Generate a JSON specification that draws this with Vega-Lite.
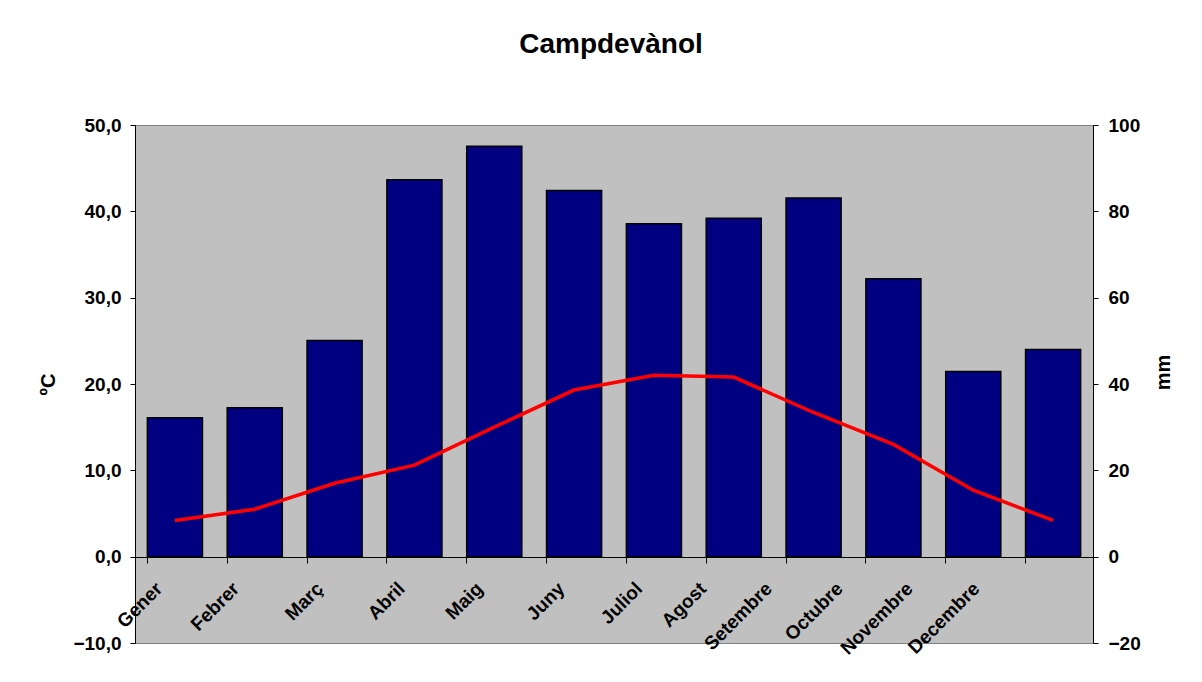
{
  "$schema": "https://vega.github.io/schema/vega-lite/v6.json",
  "width": 958,
  "height": 518,
  "autosize": {"type": "none"},
  "padding": {"left": 135, "top": 125, "right": 109, "bottom": 39},
  "background": "white",
  "title": {
    "text": "Campdevànol",
    "font": "Liberation Sans",
    "fontSize": 28,
    "fontWeight": "bold",
    "color": "black",
    "anchor": "middle",
    "frame": "group",
    "baseline": "alphabetic",
    "offset": 35,
    "dx": -3
  },
  "data": {
    "values": [
      {"mes": "Gener", "pluja": 32.2, "temp": 4.2},
      {"mes": "Febrer", "pluja": 34.5, "temp": 5.5},
      {"mes": "Març", "pluja": 50.1, "temp": 8.5},
      {"mes": "Abril", "pluja": 87.3, "temp": 10.6},
      {"mes": "Maig", "pluja": 95.1, "temp": 15.0},
      {"mes": "Juny", "pluja": 84.8, "temp": 19.3},
      {"mes": "Juliol", "pluja": 77.1, "temp": 21.0},
      {"mes": "Agost", "pluja": 78.4, "temp": 20.8},
      {"mes": "Setembre", "pluja": 83.1, "temp": 16.7},
      {"mes": "Octubre", "pluja": 64.4, "temp": 13.0},
      {"mes": "Novembre", "pluja": 42.9, "temp": 7.7},
      {"mes": "Decembre", "pluja": 48.0, "temp": 4.2}
    ]
  },
  "encoding": {
    "x": {
      "field": "mes",
      "type": "nominal",
      "sort": null,
      "scale": {"paddingInner": 0.31, "paddingOuter": 0.155},
      "axis": {
        "title": null,
        "orient": "bottom",
        "offset": -86,
        "bandPosition": 0,
        "domainColor": "black",
        "domainWidth": 1,
        "tickColor": "black",
        "tickSize": 6,
        "labelAngle": -45,
        "labelAlign": "right",
        "labelBaseline": "top",
        "labelPadding": 16,
        "labelFont": "Liberation Sans",
        "labelFontSize": 19,
        "labelFontWeight": "bold",
        "labelColor": "black",
        "labelOffset": {"expr": "[-22,-25,-21,-19,-21,-19,-21,-37,-51,-60,-70,-83][indexof(['Gener','Febrer','Març','Abril','Maig','Juny','Juliol','Agost','Setembre','Octubre','Novembre','Decembre'], datum.value)]"},
        "labelOverlap": false,
        "grid": false
      }
    }
  },
  "layer": [
    {
      "mark": {"type": "bar", "fill": "#000080", "stroke": "black", "strokeWidth": 1.5},
      "encoding": {
        "y": {
          "field": "pluja",
          "type": "quantitative",
          "scale": {"domain": [-20, 100], "nice": false, "zero": false},
          "axis": {
            "orient": "right",
            "title": "mm",
            "titleAngle": -90,
            "titleX": 70,
            "titleY": 247,
            "titleAlign": "center",
            "titleBaseline": "middle",
            "titleFont": "Liberation Sans",
            "titleFontSize": 20,
            "titleFontWeight": "bold",
            "titleColor": "black",
            "values": [-20, 0, 20, 40, 60, 80, 100],
            "format": "d",
            "domainColor": "black",
            "tickColor": "black",
            "tickSize": 5,
            "labelPadding": 10,
            "labelFont": "Liberation Sans",
            "labelFontSize": 19,
            "labelFontWeight": "bold",
            "labelColor": "black",
            "grid": false
          }
        }
      }
    },
    {
      "mark": {"type": "line", "color": "#FF0000", "strokeWidth": 3.5},
      "encoding": {
        "y": {
          "field": "temp",
          "type": "quantitative",
          "scale": {"domain": [-10, 50], "nice": false, "zero": false},
          "axis": {
            "orient": "left",
            "title": "ºC",
            "titleAngle": -90,
            "titleX": -87,
            "titleY": 259,
            "titleAlign": "center",
            "titleBaseline": "middle",
            "titleFont": "Liberation Sans",
            "titleFontSize": 20,
            "titleFontWeight": "bold",
            "titleColor": "black",
            "values": [-10, 0, 10, 20, 30, 40, 50],
            "labelExpr": "replace(format(datum.value, '.1f'), '.', ',')",
            "domainColor": "black",
            "tickColor": "black",
            "tickSize": 5,
            "labelPadding": 9,
            "labelFont": "Liberation Sans",
            "labelFontSize": 19,
            "labelFontWeight": "bold",
            "labelColor": "black",
            "grid": false
          }
        }
      }
    }
  ],
  "resolve": {"scale": {"y": "independent"}},
  "config": {
    "view": {"fill": "#C0C0C0", "stroke": "#808080", "strokeWidth": 1}
  }
}
